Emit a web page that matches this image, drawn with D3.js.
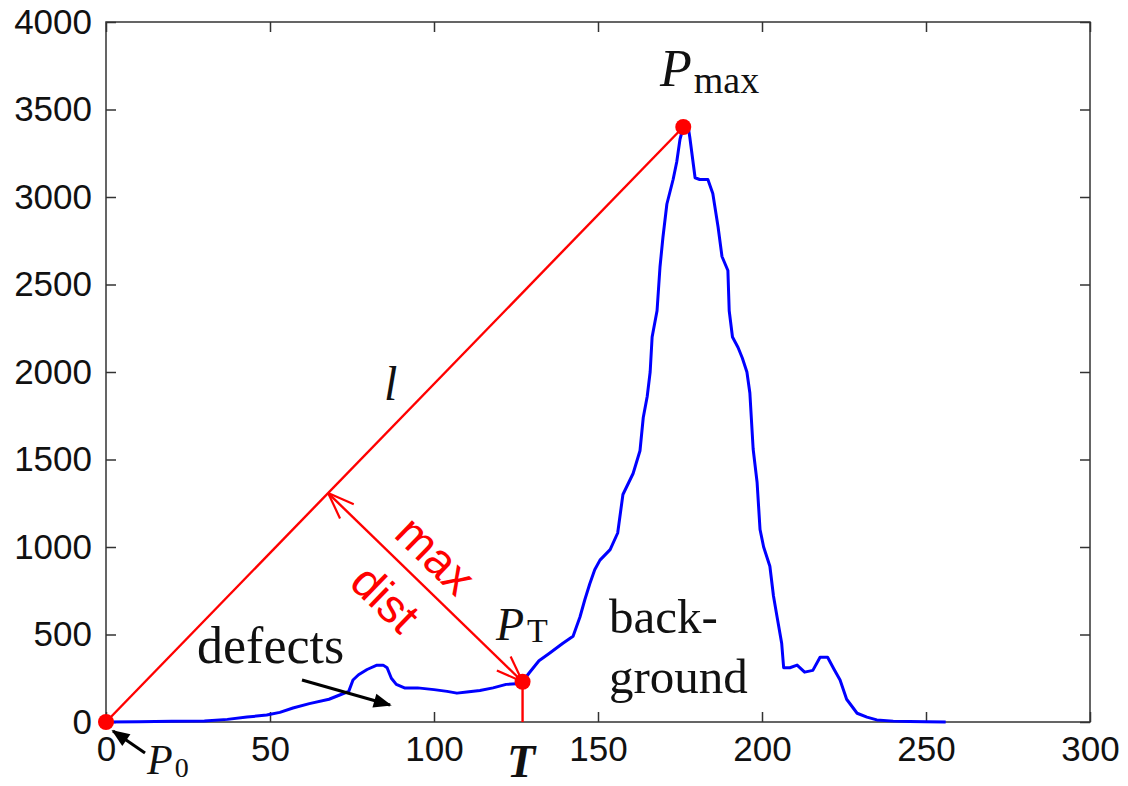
<!DOCTYPE html>
<html>
<head>
<meta charset="utf-8">
<script src="https://cdn.jsdelivr.net/npm/d3@7"></script>
<style>
body { margin: 0; background: #fff; }
svg { display: block; }
</style>
</head>
<body>
<svg></svg>
<script>
// histogram (grey level, pixel count)
let levels = [0, 10, 20, 30, 37, 43, 49, 53, 57, 62, 68, 72, 74, 75.3, 77, 79.6, 82.6, 84.5, 85.7, 87, 88.5, 91, 95, 100, 104, 107, 110, 114, 118, 122, 125, 127,
    129, 132, 135, 139.3, 142.4, 144.5, 146, 147.5, 149, 150.6, 153.7, 156, 157.6, 160.7, 162.8, 163.8, 165, 165.9, 166.5, 168, 168.9, 169.8, 171, 172.9, 174, 175, 176,
    177.5, 178, 179.6, 181, 183.5, 185, 186.6, 187.8, 189.6, 190, 191, 192.7, 194, 195.4, 196.3, 197.3, 198.5, 199.4, 200.5, 202.4, 203.5, 204.6, 206, 206.6,
    208.5, 210.7, 213, 215.5, 217.7, 220, 222, 223.8, 225.8, 229, 232, 235, 240, 245, 250, 256];
let counts = [0, 2, 4, 6, 15, 28, 40, 55, 80, 105, 130, 160, 175, 240, 270, 300, 325, 325, 310, 250, 215, 195, 195, 185, 175, 165, 172, 180, 195, 215, 218, 230,
    280, 350, 390, 450, 490, 600, 700, 790, 870, 925, 985, 1080, 1300, 1420, 1550, 1740, 1860, 2000, 2200, 2350, 2600, 2770, 2960, 3100, 3200, 3330, 3400,
    3400, 3340, 3110, 3100, 3100, 3020, 2830, 2660, 2580, 2350, 2200, 2140, 2080, 2000, 1880, 1560, 1370, 1100, 1000, 890, 720, 600, 450, 310,
    310, 325, 285, 295, 370, 370, 300, 240, 130, 50, 28, 12, 5, 3, 2, 0];

let xTicks = [0, 50, 100, 150, 200, 250, 300];
let yTicks = [0, 500, 1000, 1500, 2000, 2500, 3000, 3500, 4000];

let p0 = [0, 0];
let pT = [127, 230];
let pMax = [176, 3400];

let w = 1128;
let h = 786;
let plotLeft = 106, plotTop = 22, plotRight = 1090, plotBottom = 722;

let svg = d3.select('svg').attr('width', w).attr('height', h);

let xScale = d3.scaleLinear().domain([0, 300]).range([plotLeft, plotRight]);
let yScale = d3.scaleLinear().domain([0, 4000]).range([plotBottom, plotTop]);

let serif = '"Liberation Serif", "Times New Roman", serif';
let sans = '"Liberation Sans", Arial, sans-serif';

let defs = svg.append('defs');
defs.append('marker')
    .attr('id', 'head')
    .attr('viewBox', '0 0 10 10')
    .attr('refX', 9).attr('refY', 5)
    .attr('markerWidth', 8).attr('markerHeight', 6)
    .attr('markerUnits', 'strokeWidth')
    .attr('orient', 'auto')
    .append('path')
    .attr('d', 'M0,1 L10,5 L0,9 Z')
    .attr('fill', '#000');

let setAxes = () => {
    let styleAxis = g => {
        g.select('.domain').remove();
        g.selectAll('.tick line').attr('stroke', '#333').attr('stroke-width', 1.5);
        g.selectAll('.tick text').attr('fill', '#111').style('font-family', sans).style('font-size', '35px');
    };
    svg.append('g')
        .attr('transform', 'translate(0,' + plotBottom + ')')
        .call(d3.axisBottom(xScale).tickValues(xTicks).tickSize(-10).tickPadding(14).tickFormat(d3.format('d')))
        .call(styleAxis);
    svg.append('g')
        .attr('transform', 'translate(' + plotLeft + ',0)')
        .call(d3.axisLeft(yScale).tickValues(yTicks).tickSize(-10).tickPadding(14).tickFormat(d3.format('d')))
        .call(styleAxis);
    svg.append('g')
        .attr('transform', 'translate(0,' + plotTop + ')')
        .call(d3.axisTop(xScale).tickValues(xTicks).tickSize(-10).tickFormat(''))
        .call(styleAxis);
    svg.append('g')
        .attr('transform', 'translate(' + plotRight + ',0)')
        .call(d3.axisRight(yScale).tickValues(yTicks).tickSize(-10).tickFormat(''))
        .call(styleAxis);

    svg.append('rect')
        .attr('x', plotLeft).attr('y', plotTop)
        .attr('width', plotRight - plotLeft).attr('height', plotBottom - plotTop)
        .attr('fill', 'none').attr('stroke', '#333').attr('stroke-width', 1.5);
}

let setCurve = () => {
    let line = d3.line()
        .x((d, i) => xScale(levels[i]))
        .y(d => yScale(d));
    svg.append('path')
        .attr('d', line(counts))
        .attr('fill', 'none')
        .attr('stroke', '#0000ff')
        .attr('stroke-width', 3)
        .attr('stroke-linejoin', 'round');
}

let openHead = (tip, from, len, ang) => {
    let dx = from[0] - tip[0], dy = from[1] - tip[1];
    let a = Math.atan2(dy, dx);
    [ang, -ang].forEach(s => {
        svg.append('line')
            .attr('x1', tip[0]).attr('y1', tip[1])
            .attr('x2', tip[0] + len * Math.cos(a + s)).attr('y2', tip[1] + len * Math.sin(a + s))
            .attr('stroke', 'red').attr('stroke-width', 2.2);
    });
}

let setConstruction = () => {
    let a = [xScale(p0[0]), yScale(p0[1])];
    let b = [xScale(pMax[0]), yScale(pMax[1])];
    let c = [xScale(pT[0]), yScale(pT[1])];

    // line l
    svg.append('line')
        .attr('x1', a[0]).attr('y1', a[1]).attr('x2', b[0]).attr('y2', b[1])
        .attr('stroke', 'red').attr('stroke-width', 2.4);

    // drop to T
    svg.append('line')
        .attr('x1', c[0]).attr('y1', c[1]).attr('x2', c[0]).attr('y2', plotBottom)
        .attr('stroke', 'red').attr('stroke-width', 2.4);

    // foot of the perpendicular from P_T onto l
    let vx = b[0] - a[0], vy = b[1] - a[1];
    let t = ((c[0] - a[0]) * vx + (c[1] - a[1]) * vy) / (vx * vx + vy * vy);
    let f = [a[0] + t * vx, a[1] + t * vy];

    svg.append('line')
        .attr('x1', f[0]).attr('y1', f[1]).attr('x2', c[0]).attr('y2', c[1])
        .attr('stroke', 'red').attr('stroke-width', 2.4);
    openHead(f, c, 28, 0.36);
    openHead(c, f, 28, 0.36);

    let ang = Math.atan2(c[1] - f[1], c[0] - f[0]) * 180 / Math.PI;
    let mid = [(f[0] + c[0]) / 2, (f[1] + c[1]) / 2];
    let g = svg.append('g')
        .attr('transform', 'translate(' + mid[0] + ',' + mid[1] + ') rotate(' + ang + ')');
    g.append('text').attr('x', -15).attr('y', -14).text('max');
    g.append('text').attr('x', -21).attr('y', 52).text('dist');
    g.selectAll('text')
        .attr('text-anchor', 'middle')
        .attr('fill', 'red')
        .style('font-family', sans)
        .style('font-size', '47px');

    svg.selectAll('circle.pt')
        .data([p0, pT, pMax])
        .enter()
        .append('circle')
        .attr('class', 'pt')
        .attr('cx', d => xScale(d[0]))
        .attr('cy', d => yScale(d[1]))
        .attr('r', 8)
        .attr('fill', 'red');
}

let label = (x, y, parts) => {
    let t = svg.append('text').attr('x', x).attr('y', y).style('font-family', serif).attr('fill', '#111');
    parts.forEach(p => {
        t.append('tspan')
            .attr('dy', p.dy || 0)
            .attr('dx', p.dx || 0)
            .style('font-size', p.size + 'px')
            .style('font-style', p.italic ? 'italic' : 'normal')
            .style('font-weight', p.bold ? 'bold' : 'normal')
            .text(p.text);
    });
    return t;
}

let setLabels = () => {
    label(660, 86, [{ text: 'P', size: 52, italic: true }, { text: 'max', size: 38, dy: 7, dx: 2 }]);
    label(496, 640, [{ text: 'P', size: 46, italic: true }, { text: 'T', size: 34, dy: 2, dx: 3 }]);
    label(147, 774, [{ text: 'P', size: 42, italic: true }, { text: '0', size: 28, dy: 3, dx: 2 }]);
    label(384, 400, [{ text: 'l', size: 48, italic: true }]);
    label(521, 777, [{ text: 'T', size: 46, italic: true, bold: true }]).attr('text-anchor', 'middle');
    label(197, 663, [{ text: 'defects', size: 52 }]);
    label(609, 633, [{ text: 'back-', size: 49 }]);
    label(609, 693, [{ text: 'ground', size: 49 }]);

    // pointer arrows
    svg.append('line')
        .attr('x1', 302).attr('y1', 680).attr('x2', 390).attr('y2', 705)
        .attr('stroke', '#000').attr('stroke-width', 3)
        .attr('marker-end', 'url(#head)');
    svg.append('line')
        .attr('x1', 145).attr('y1', 753).attr('x2', 113).attr('y2', 731)
        .attr('stroke', '#000').attr('stroke-width', 3)
        .attr('marker-end', 'url(#head)');
}

setAxes();
setCurve();
setConstruction();
setLabels();
</script>
</body>
</html>
